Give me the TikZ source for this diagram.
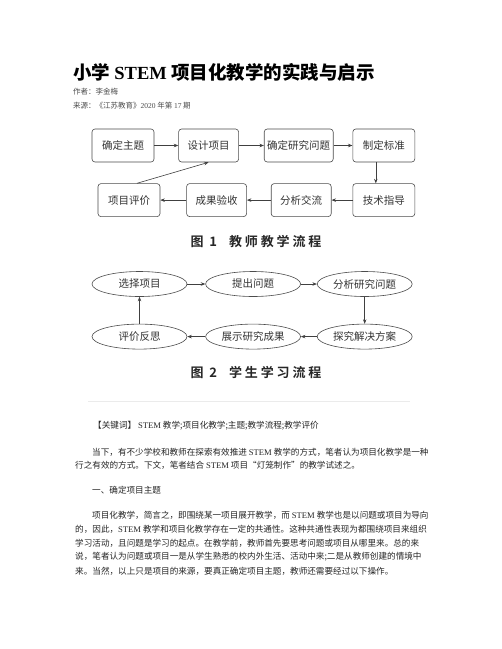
\documentclass[tikz,border=0pt]{standalone}
\usepackage{fontspec}
\setmainfont{Noto Sans CJK SC}
\newfontfamily\lat{Liberation Serif}
\newfontfamily\capfont[LetterSpace=22]{Noto Sans CJK SC Bold}
\usetikzlibrary{arrows.meta,%
                shapes.geometric,positioning}

\begin{document}
\begin{tikzpicture}[x=1pt,y=-1pt]
  \tikzset{StepStyle/.style = {shape          = rectangle,
                               draw           = black!70,
                               rounded corners= 3pt,
                               line width     = 0.6pt,
                               text           = black!80,
                               inner sep      = 0pt,
                               minimum width  = 61pt,
                               minimum height = 33pt,
                               font           = \fontsize{10.5}{11}\selectfont}}
  \tikzset{LoopStyle/.style = {shape          = ellipse,
                               draw           = black!70,
                               line width     = 0.6pt,
                               text           = black!80,
                               inner sep      = 0pt,
                               minimum width  = 95pt,
                               minimum height = 25pt,
                               font           = \fontsize{10.5}{11}\selectfont}}
  \tikzset{FlowArrow/.style = {-{Stealth[length=4.5pt,width=3.5pt]},
                               draw=black!75, line width=0.6pt}}
  \tikzset{TextLine/.style = {anchor=west, inner sep=0pt, text=black!85,
                              font=\fontsize{8.6}{10}\selectfont}}
  \tikzset{CapStyle/.style = {inner sep=0pt, text=black!85,
                              font=\capfont\fontsize{13}{14}\selectfont}}
  \useasboundingbox (0,0) rectangle (502,649);
  \fill[white] (0,0) rectangle (502,649);
	%%% EN-TETE %%%
	\node[anchor=west, inner sep=0pt, font=\fontsize{18.5}{20}\selectfont\bfseries](titre) at (73,72)
	  {小学 {\lat\bfseries STEM} 项目化教学的实践与启示};
	\node[TextLine, text=black!70, font=\fontsize{7.5}{9}\selectfont](auteur) at (73,92) {作者：李金梅};
	\node[TextLine, text=black!70, font=\fontsize{7.5}{9}\selectfont](source) at (73,106)
	  {来源：《江苏教育》{\lat 2020} 年第 {\lat 17} 期};
	%%% FIGURE 1 %%%
	\node[StepStyle, minimum width=62pt](zhuti) at (123,145.5){确定主题};
	\node[StepStyle, minimum width=60pt, right=24pt of zhuti](sheji){设计项目};
	\node[StepStyle, minimum width=69pt, right=25pt of sheji](wenti){确定研究问题};
	\node[StepStyle, minimum width=62pt, right=19pt of wenti](biaozhun){制定标准};
	%
	\node[StepStyle, minimum width=62pt, below=21pt of biaozhun](zhidao){技术指导};
	\node[StepStyle, minimum width=60pt, left=21pt of zhidao](jiaoliu){分析交流};
	\node[StepStyle, minimum width=60pt, left=24pt of jiaoliu](yanshou){成果验收};
	\node[StepStyle, minimum width=62pt, left=26pt of yanshou](pingjia){项目评价};
	%
	\draw[FlowArrow](zhuti) -- (sheji);
	\draw[FlowArrow](sheji) -- (wenti);
	\draw[FlowArrow](wenti) -- (biaozhun);
	\draw[FlowArrow]([xshift=-8pt]biaozhun.south) -- ([xshift=-8pt]zhidao.north);
	\draw[FlowArrow](zhidao) -- (jiaoliu);
	\draw[FlowArrow](jiaoliu) -- (yanshou);
	\draw[FlowArrow](yanshou) -- (pingjia);
	\draw[FlowArrow]([xshift=8pt]pingjia.north) -- (sheji.south);
	\node[CapStyle](fig1) at (256,242){图 1\hspace{12pt}教师教学流程};
	%%% FIGURE 2 %%%
	\node[LoopStyle](xuanze) at (139.5,284){选择项目};
	\node[LoopStyle, right=18pt of xuanze](tichu){提出问题};
	\node[LoopStyle, right=16pt of tichu](fenxi){分析研究问题};
	%
	\node[LoopStyle, below=27pt of fenxi](tanjiu){探究解决方案};
	\node[LoopStyle, left=16pt of tanjiu](zhanshi){展示研究成果};
	\node[LoopStyle, left=18pt of zhanshi](fansi){评价反思};
	%
	\draw[FlowArrow](xuanze) -- (tichu);
	\draw[FlowArrow](tichu) -- (fenxi);
	\draw[FlowArrow](fenxi) -- (tanjiu);
	\draw[FlowArrow](tanjiu) -- (zhanshi);
	\draw[FlowArrow](zhanshi) -- (fansi);
	\draw[FlowArrow](fansi) -- (xuanze);
	\node[CapStyle](fig2) at (256,372){图 2\hspace{12pt}学生学习流程};
	%%% TEXTE %%%
	\coordinate (regleG) at (88,401);
	\coordinate (regleD) at (410,401);
	\draw[black!8, line width=1pt](regleG) -- (regleD);
	\node[TextLine](motscles) at (93,426)
	  {【关键词】 {\lat STEM} 教学;项目化教学;主题;教学流程;教学评价};
	\node[TextLine](p1a) at (92,452)
	  {当下，有不少学校和教师在探索有效推进 {\lat STEM} 教学的方式，笔者认为项目化教学是一种};
	\node[TextLine](p1b) at (75,465)
	  {行之有效的方式。下文，笔者结合 {\lat STEM} 项目“灯笼制作”的教学试述之。};
	\node[TextLine](section) at (92,490){一、确定项目主题};
	\node[TextLine](p2a) at (92,515)
	  {项目化教学，简言之，即围绕某一项目展开教学，而 {\lat STEM} 教学也是以问题或项目为导向};
	\node[TextLine](p2b) at (75,529)
	  {的，因此，{\lat STEM} 教学和项目化教学存在一定的共通性。这种共通性表现为都围绕项目来组织};
	\node[TextLine](p2c) at (75,543)
	  {学习活动，且问题是学习的起点。在教学前，教师首先要思考问题或项目从哪里来。总的来};
	\node[TextLine](p2d) at (75,557)
	  {说，笔者认为问题或项目一是从学生熟悉的校内外生活、活动中来;二是从教师创建的情境中};
	\node[TextLine](p2e) at (75,571)
	  {来。当然，以上只是项目的来源，要真正确定项目主题，教师还需要经过以下操作。};
\end{tikzpicture}
\end{document}
